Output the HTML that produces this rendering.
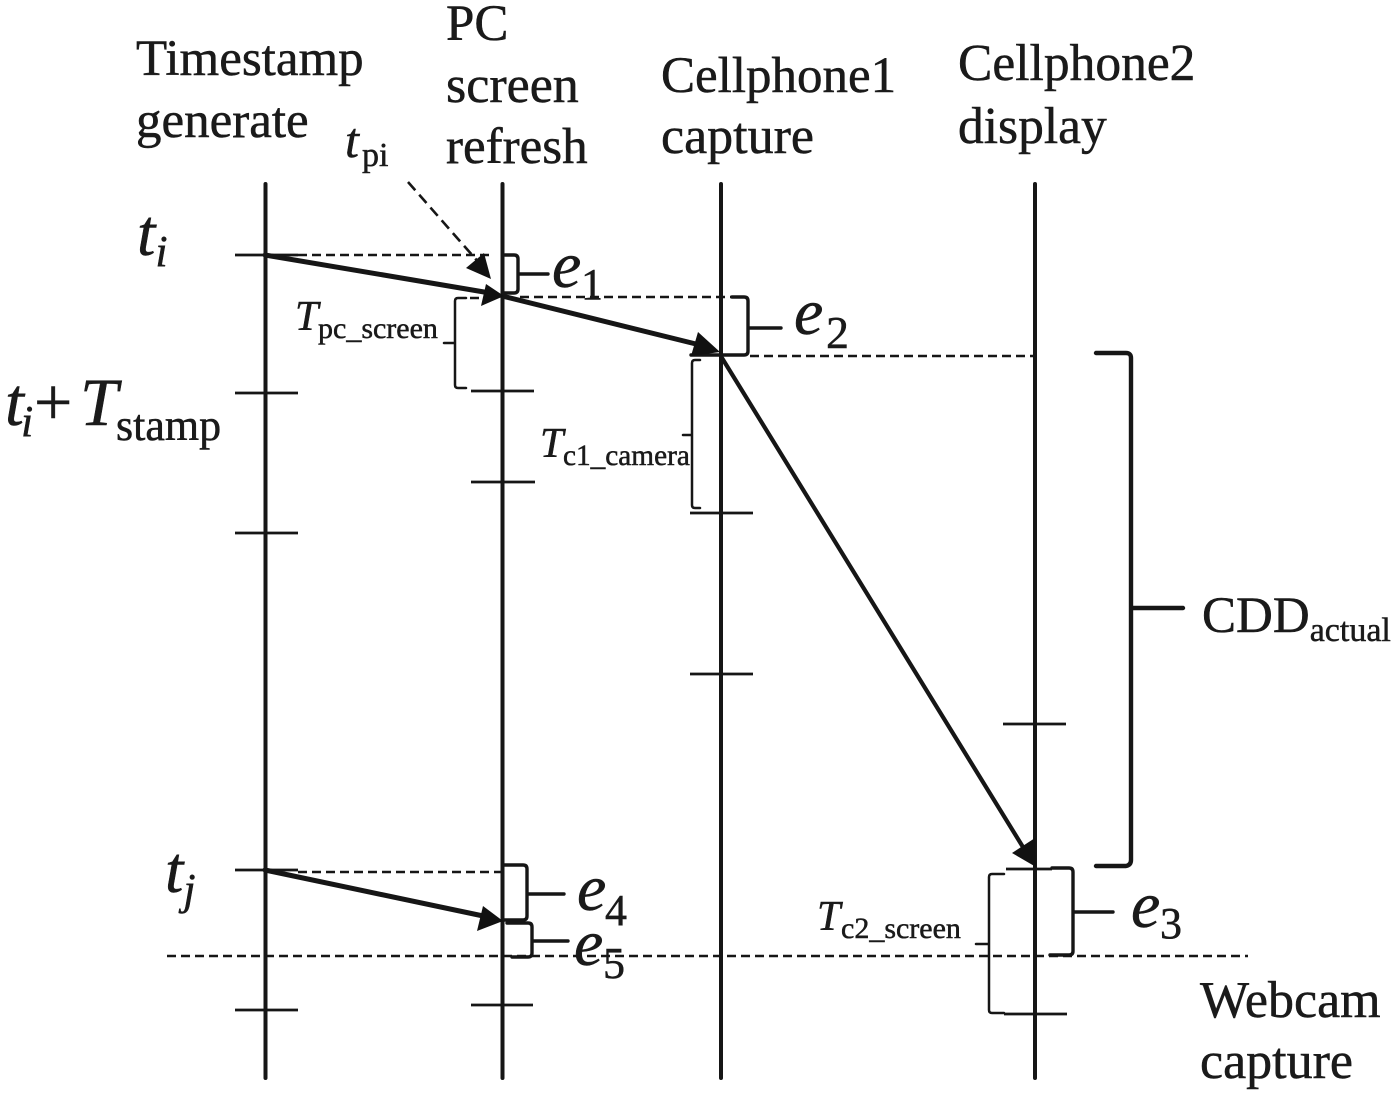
<!DOCTYPE html>
<html><head><meta charset="utf-8">
<style>html,body{margin:0;padding:0;background:#fff}svg{display:block}
text{font-family:"Liberation Serif",serif;fill:#1a1a1a;stroke:#1a1a1a;stroke-width:.5}
.i{font-style:italic}.n{font-style:normal}</style></head>
<body>
<svg width="1400" height="1094" viewBox="0 0 1400 1094" xmlns="http://www.w3.org/2000/svg">
<g stroke="#161616" fill="none" stroke-linecap="round" stroke-linejoin="round">
<path d="M265.5 184V1078M502.5 184V1078M721 184V1078M1035 184V1078" stroke-width="4"/>
<g stroke-width="2.8" stroke-linecap="butt">
<path d="M235 255H298M235 393H298M235 533H298M235 870H298M235 1010H298"/>
<path d="M471 391H534M471 482H535M471 1005H533"/>
<path d="M690 513H753M690 674H753"/>
<path d="M1003 724H1066M1004 1014H1067M1006 869H1052"/>
</g>
<g stroke-width="2.6" stroke-dasharray="9 5" stroke-linecap="butt">
<path d="M298 255H492M470 298H498M520 297H735M750 356H1035M298 872H503M167 956H1248"/>
</g>
<path d="M408 182L480 264" stroke-width="2.6" stroke-dasharray="11 6" stroke-linecap="butt"/>
<path d="M265 255L490 293" stroke-width="5"/>
<path d="M502 296L700 345" stroke-width="5"/>
<path d="M722 358L1026 852" stroke-width="4.2"/>
<path d="M265 870L488 917" stroke-width="5"/>
<g stroke-width="3.4">
<path d="M505 255H514Q518 255 518 259V289Q518 293 514 293H504M518 274H548"/>
<path d="M732 297H744Q748 297 748 301V351Q748 355 744 355H691M748 328H781"/>
<path d="M503 865H523Q527 865 527 869V916Q527 920 523 920H503M527 894H564"/>
<path d="M507 923H528Q532 923 532 927V953Q532 957 528 957H512M532 941H568"/>
<path d="M1052 868H1069Q1073 868 1073 872V951Q1073 955 1069 955H1050M1073 912H1113"/>
<path d="M1096 353H1126Q1131 353 1131 358V860Q1131 865 1126 866L1096 866M1131 608H1183" stroke-width="4.4"/>
</g>
<g stroke-width="2.5">
<path d="M466 298H458Q455 298 455 301V385Q455 388 458 388H466M455 343H444"/>
<path d="M700 360H695Q692 360 692 363V505Q692 508 695 508H700M692 435H683"/>
<path d="M1004 874H992Q989 874 989 877V1010Q989 1013 992 1013H1004M989 944H976"/>
</g>
</g>
<g fill="#111">
<polygon points="491,279 466,268 484,253"/>
<polygon points="504,296 486,284 481,306"/>
<polygon points="720,352 698,332 691,356"/>
<polygon points="1036,867 1012,853 1035,838"/>
<polygon points="503,921 483,906 477,931"/>
</g>
<g font-size="51">
<text x="136" y="75">Timestamp</text>
<text x="136" y="137">generate</text>
<text x="446" y="40">PC</text>
<text x="446" y="102" font-size="52">screen</text>
<text x="446" y="163">refresh</text>
<text x="661" y="92">Cellphone1</text>
<text x="661" y="153" font-size="52">capture</text>
<text x="958" y="80" font-size="51.5">Cellphone2</text>
<text x="958" y="143" font-size="51.5">display</text>
<text x="1200" y="1017" font-size="52">Webcam</text>
<text x="1200" y="1078" font-size="52">capture</text>
<text x="1202" y="632">CDD<tspan font-size="34" dy="9">actual</tspan></text>
</g>
<g>
<text x="137" y="255" font-size="66" class="i">t<tspan font-size="44" dy="11">i</tspan></text>
<text y="425" font-size="68"><tspan x="5" class="i">t</tspan><tspan x="21" font-size="44" dy="11" class="i">i</tspan><tspan x="34" dy="-11">+</tspan><tspan x="80" class="i">T</tspan><tspan x="116" font-size="44" dy="15">stamp</tspan></text>
<text x="165" y="892" font-size="66" class="i">t<tspan font-size="44" dy="12">j</tspan></text>
<text x="345" y="157" font-size="50" class="i">t<tspan x="362" font-size="34" dy="9" class="n">pi</tspan></text>
<text x="295" y="330" font-size="42" class="i">T<tspan x="318" font-size="30" dy="8" class="n">pc_screen</tspan></text>
<text x="540" y="457" font-size="42" class="i">T<tspan x="563" font-size="29.3" dy="8" class="n">c1_camera</tspan></text>
<text x="817" y="930" font-size="42" class="i">T<tspan x="841" font-size="30" dy="8" class="n">c2_screen</tspan></text>
<text x="552" y="287" font-size="66" class="i">e<tspan x="581" font-size="44" dy="12" class="n">1</tspan></text>
<text x="794" y="334" font-size="66" class="i">e<tspan x="826" font-size="46" dy="14" class="n">2</tspan></text>
<text x="1131" y="927" font-size="66" class="i">e<tspan x="1160" font-size="44" dy="11" class="n">3</tspan></text>
<text x="577" y="910" font-size="66" class="i">e<tspan x="605" font-size="44" dy="15" class="n">4</tspan></text>
<text x="574" y="965" font-size="66" class="i">e<tspan x="603" font-size="44" dy="13" class="n">5</tspan></text>
</g>
</svg>
</body></html>
